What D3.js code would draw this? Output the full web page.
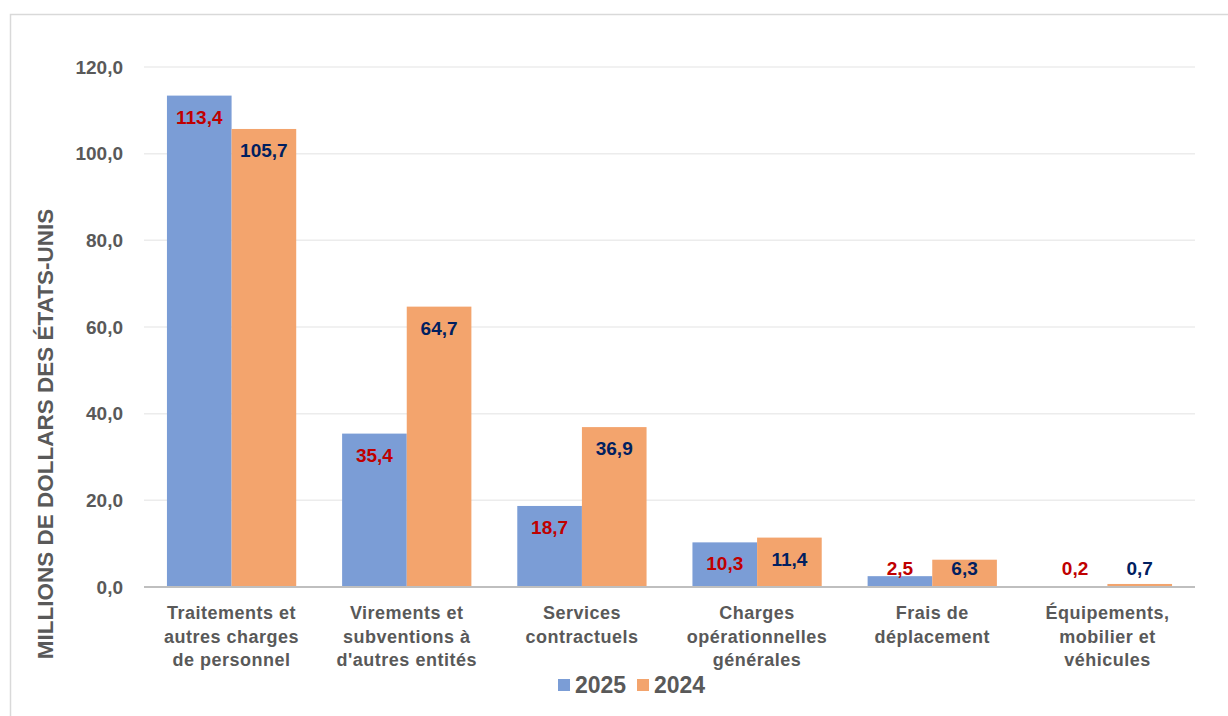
<!DOCTYPE html>
<html>
<head>
<meta charset="utf-8">
<script src="https://cdn.jsdelivr.net/npm/d3@7"></script>
<style>
  body { margin: 0; background: #fff; }
  text { font-family: "Liberation Sans", Arial, sans-serif; font-weight: bold; }
</style>
</head>
<body>
<svg id="chart" width="1228" height="716"></svg>
<script>
// data
const categories = [
    ['Traitements et', 'autres charges', 'de personnel'],
    ['Virements et', 'subventions à', "d'autres entités"],
    ['Services', 'contractuels'],
    ['Charges', 'opérationnelles', 'générales'],
    ['Frais de', 'déplacement'],
    ['Équipements,', 'mobilier et', 'véhicules']
];
const series = ['2025', '2024'];
const values2025 = [113.4, 35.4, 18.7, 10.3, 2.5, 0.2];
const values2024 = [105.7, 64.7, 36.9, 11.4, 6.3, 0.7];
const yTicks = [0, 20, 40, 60, 80, 100, 120];

const barColors = { '2025': '#7b9dd6', '2024': '#f3a46d' };
const labelColors = { '2025': '#c00000', '2024': '#002060' };

const svg = d3.select('#chart');
const margin = { left: 144, right: 1195, top: 67, bottom: 587 };

// outer frame
svg.append('rect')
    .attr('x', 10.5).attr('y', 14.5)
    .attr('width', 1240).attr('height', 720)
    .style('fill', 'none')
    .style('stroke', '#d9d9d9')
    .style('stroke-width', 1.5);

const fmt = (v) => d3.format('.1f')(v).replace('.', ',');

const x = d3.scaleBand()
    .domain(d3.range(categories.length))
    .range([margin.left, margin.right])
    .paddingInner(0.262)
    .paddingOuter(0.131);

const xs = d3.scaleBand().domain(series).range([0, x.bandwidth()]);

const y = d3.scaleLinear().domain([0, 120]).range([margin.bottom, margin.top]);

// gridlines
svg.append('g')
    .selectAll('line')
    .data(yTicks.filter(d => d > 0))
    .join('line')
    .attr('x1', margin.left).attr('x2', margin.right)
    .attr('y1', d => y(d)).attr('y2', d => y(d))
    .style('stroke', '#ececec')
    .style('stroke-width', 1.5);

// y axis labels
const yAxis = svg.append('g')
    .attr('transform', `translate(${margin.left}, 0)`)
    .call(d3.axisLeft(y).tickValues(yTicks).tickFormat(fmt).tickSize(0).tickPadding(21));
yAxis.select('.domain').remove();
yAxis.selectAll('text')
    .style('font-size', '19px')
    .style('font-family', '"Liberation Sans", Arial, sans-serif')
    .style('font-weight', 'bold')
    .style('fill', '#595959');

// bars
const rows = categories.map((c, i) => ({ i, vals: [
    { s: '2025', v: values2025[i] },
    { s: '2024', v: values2024[i] }
] }));

const groups = svg.append('g')
    .selectAll('g')
    .data(rows)
    .join('g')
    .attr('transform', d => `translate(${x(d.i)}, 0)`);

groups.selectAll('rect')
    .data(d => d.vals)
    .join('rect')
    .attr('x', d => xs(d.s))
    .attr('y', d => y(d.v))
    .attr('width', xs.bandwidth())
    .attr('height', d => y(0) - y(d.v))
    .style('fill', d => barColors[d.s]);

groups.selectAll('text')
    .data(d => d.vals)
    .join('text')
    .attr('x', d => xs(d.s) + xs.bandwidth() / 2)
    .attr('y', d => Math.min(y(d.v) + 28, y(0) - 12))
    .attr('text-anchor', 'middle')
    .style('font-size', '19px')
    .style('fill', d => labelColors[d.s])
    .text(d => fmt(d.v));

// x axis line
svg.append('line')
    .attr('x1', margin.left).attr('x2', margin.right)
    .attr('y1', y(0)).attr('y2', y(0))
    .style('stroke', '#bfbfbf')
    .style('stroke-width', 2);

// category labels
const catLabels = svg.append('g')
    .selectAll('text')
    .data(categories)
    .join('text')
    .attr('text-anchor', 'middle')
    .style('font-size', '18px')
    .style('letter-spacing', '0.5px')
    .style('fill', '#595959');

catLabels.selectAll('tspan')
    .data((d, i) => d.map(line => ({ line, i })))
    .join('tspan')
    .attr('x', d => x(d.i) + x.bandwidth() / 2)
    .attr('y', (d, j) => 619 + j * 23.5)
    .text(d => d.line);

// axis title
svg.append('text')
    .attr('transform', 'translate(53, 434) rotate(-90)')
    .attr('text-anchor', 'middle')
    .style('font-size', '22.5px')
    .style('fill', '#595959')
    .text('MILLIONS DE DOLLARS DES ÉTATS-UNIS');

// legend
const legend = svg.append('g')
    .selectAll('g')
    .data(series)
    .join('g')
    .attr('transform', (d, i) => `translate(${558 + i * 79}, 0)`);

legend.append('rect')
    .attr('x', 0).attr('y', 679)
    .attr('width', 12).attr('height', 12)
    .style('fill', d => barColors[d]);

legend.append('text')
    .attr('x', 17).attr('y', 693)
    .style('font-size', '23px')
    .style('fill', '#595959')
    .text(d => d);
</script>
</body>
</html>
